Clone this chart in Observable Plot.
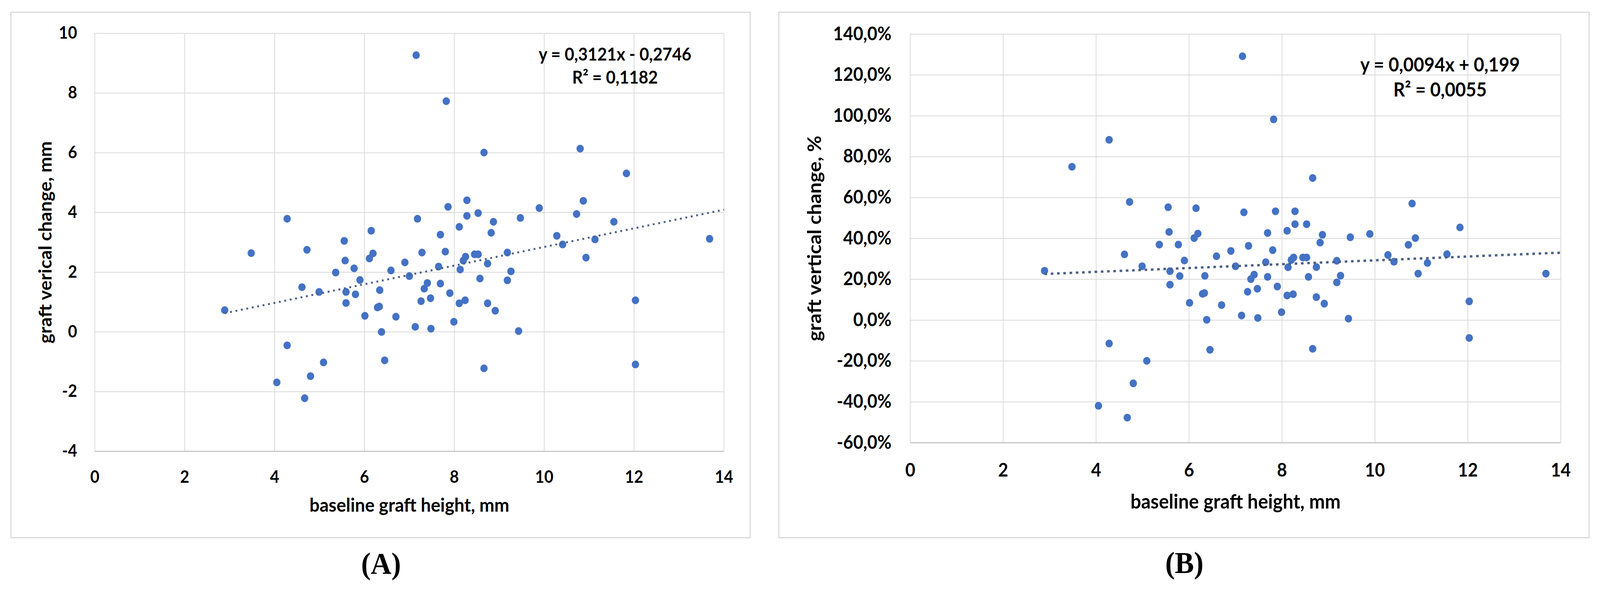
<!DOCTYPE html>
<html>
<head>
<meta charset="utf-8">
<script src="https://cdn.jsdelivr.net/npm/d3@7"></script>
<script src="https://cdn.jsdelivr.net/npm/@observablehq/plot@0.6"></script>
<style>
  html, body { margin: 0; padding: 0; background: #fff; overflow: hidden; }
  #wrap { position: relative; overflow: hidden; background: #fff; }
  #page { position: absolute; left: 0; top: 0; width: 4346px; height: 1513px; background: #fff; transform-origin: 0 0; }
  .box { position: absolute; border: 3px solid #d9d9d9; box-sizing: border-box; pointer-events: none; }
  .chart { position: absolute; }
  .cap { position: absolute; font-family: "Liberation Serif", "Times New Roman", serif; font-weight: bold;
         font-size: 78px; line-height: 78px; color: #000; transform: translateX(-50%); white-space: nowrap; }
</style>
</head>
<body>
<div id="wrap"><div id="page"></div></div>
<script>
// ---- data ----
const baselineHeight = [2.89,3.48,4.05,4.28,4.28,4.61,4.67,4.72,4.80,4.99,5.09,5.36,5.55,5.57,5.59,5.59,5.77,5.80,5.90,6.01,6.11,6.15,6.19,6.29,6.33,6.34,6.38,6.45,6.59,6.70,6.90,7.00,7.13,7.15,7.18,7.26,7.28,7.33,7.40,7.47,7.48,7.65,7.69,7.69,7.80,7.82,7.86,7.90,7.99,8.11,8.11,8.13,8.20,8.24,8.25,8.28,8.28,8.45,8.53,8.53,8.57,8.66,8.66,8.74,8.74,8.82,8.87,8.91,9.18,9.18,9.26,9.43,9.47,9.89,10.28,10.41,10.72,10.80,10.87,10.93,11.13,11.55,11.83,12.03,12.03,13.68];
const changeMm = [0.73,2.64,-1.69,3.79,-0.45,1.50,-2.22,2.75,-1.48,1.34,-1.02,1.99,3.05,2.39,1.34,0.97,2.13,1.26,1.74,0.54,2.46,3.39,2.63,0.82,0.85,1.40,0.00,-0.95,2.06,0.51,2.33,1.87,0.17,9.27,3.79,1.03,2.66,1.45,1.64,1.13,0.11,2.19,3.26,1.62,2.69,7.73,4.19,1.30,0.34,3.52,0.96,2.09,2.39,1.06,2.52,4.41,3.89,2.60,2.60,3.98,1.79,6.01,-1.22,2.29,0.96,3.32,3.69,0.71,2.66,1.73,2.03,0.03,3.82,4.15,3.22,2.93,3.95,6.14,4.39,2.49,3.10,3.69,5.31,1.06,-1.09,3.12];
const changePct = [24.2,75.1,-41.9,88.3,-11.4,32.2,-47.7,57.9,-30.9,26.4,-19.9,37.0,55.3,43.2,24.0,17.4,37.0,21.6,29.2,8.5,40.2,54.8,42.4,12.9,13.3,21.7,0.2,-14.5,31.3,7.4,33.9,26.4,2.3,129.2,52.8,13.9,36.4,20.1,22.3,15.4,1.1,28.4,42.7,21.2,34.3,98.3,53.3,16.5,3.9,43.8,12.1,25.9,29.5,12.7,30.7,53.3,47.0,30.7,30.7,47.0,21.2,69.6,-14.0,26.0,11.3,38.0,41.8,8.1,29.1,18.5,21.8,0.75,40.6,42.2,31.9,28.6,36.9,57.1,40.2,22.8,28.0,32.3,45.4,9.2,-8.7,22.8];

const xTicks = [0, 2, 4, 6, 8, 10, 12, 14];
const yTicksA = [-4, -2, 0, 2, 4, 6, 8, 10];
const yTicksB = [-60, -40, -20, 0, 20, 40, 60, 80, 100, 120, 140];

// trendline coefficients as printed on the chart (B is in fractions)
const trendA = { slope: 0.3121, intercept: -0.2746 };
const trendB = { slope: 0.0094, intercept: 0.199 };

const xTitle = "baseline graft height, mm";
const yTitleA = "graft verical change, mm";
const yTitleB = "graft vertical change, %";
const eqA = "y = 0,3121x - 0,2746\nR\u00B2 = 0,1182";
const eqB = "y = 0,0094x + 0,199\nR\u00B2 = 0,0055";
const captionA = "(A)";
const captionB = "(B)";

// ---- drawing ----
const FONT = "Lato, 'Open Sans', sans-serif";
const BLUE = "#4472C4";
const GRID = "#d9d9d9";
const PAGE_W = 4346, PAGE_H = 1513;

function panel(o) {
  const pts = baselineHeight.map((x, i) => ({ x, y: o.values[i] }));
  const x0 = d3.min(baselineHeight), x1 = xTicks[xTicks.length - 1];
  const trendPts = [x0, x1].map(x => ({ x, y: o.trendScale * (o.trend.slope * x + o.trend.intercept) }));
  return Plot.plot({
    width: o.width, height: o.height,
    marginLeft: o.ml, marginRight: o.mr, marginTop: o.mt, marginBottom: o.mb,
    x: { domain: [xTicks[0], x1] },
    y: { domain: [o.yTicks[0], o.yTicks[o.yTicks.length - 1]] },
    style: { fontFamily: FONT, color: "#000", background: "transparent", overflow: "visible" },
    marks: [
      Plot.gridX({ ticks: xTicks, stroke: GRID, strokeOpacity: 1, strokeWidth: 2 }),
      Plot.gridY({ ticks: o.yTicks, stroke: GRID, strokeOpacity: 1, strokeWidth: 2 }),
      Plot.ruleY([o.yTicks[0]], { stroke: "#bfbfbf", strokeWidth: 2.5 }),
      Plot.axisX({ ticks: xTicks, tickSize: 0, tickPadding: o.xPad, tickFormat: d => String(d), label: null,
                   fontSize: o.tickFs, fontWeight: "bold", fontFamily: FONT, fill: "#000" }),
      Plot.axisY({ ticks: o.yTicks, tickSize: 0, tickPadding: o.yPad, tickFormat: o.yFmt, label: null,
                   fontSize: o.tickFs, fontWeight: "bold", fontFamily: FONT, fill: "#000" }),
      Plot.dot(pts, { x: "x", y: "y", r: 10, fill: BLUE, stroke: "none" }),
      Plot.line(trendPts, { x: "x", y: "y", stroke: o.trendColor, strokeWidth: o.trendW,
                            strokeDasharray: o.trendDash, strokeLinecap: "butt" }),
      Plot.text([o.yTitle], { frameAnchor: "left", rotate: -90, dx: o.yTitleDx, textAnchor: "middle", lineAnchor: "middle",
                              fontSize: o.yTitleFs, fontWeight: "bold", fontFamily: FONT, fill: "#000" }),
      Plot.text([xTitle], { frameAnchor: "bottom", dy: o.xTitleDy, textAnchor: "middle", lineAnchor: "middle",
                            fontSize: o.xTitleFs, fontWeight: "bold", fontFamily: FONT, fill: "#000" }),
      Plot.text([o.eq], { frameAnchor: "top-right", dx: o.eqDx, dy: o.eqDy, textAnchor: "middle", lineAnchor: "top",
                          lineHeight: o.eqLh, fontSize: o.eqFs, fontWeight: "bold", fontFamily: FONT, fill: "#000" })
    ]
  });
}

const wrap = document.getElementById("wrap");
const page = document.getElementById("page");

// fit the 4346x1513 layout into whatever viewport the browser really gives
let vw = document.documentElement.clientWidth || window.innerWidth || PAGE_W;
let vh = document.documentElement.clientHeight || window.innerHeight || PAGE_H;
let sx = vw / PAGE_W, sy = vh / PAGE_H;
if (!isFinite(sx) || sx <= 0.3 || sx > 1) sx = 1;
if (!isFinite(sy) || sy <= 0.3 || sy > 1) sy = 1;
wrap.style.width = (PAGE_W * sx) + "px";
wrap.style.height = (PAGE_H * sy) + "px";
page.style.transform = `scale(${sx}, ${sy})`;

function place(el, left, top) {
  el.classList.add("chart");
  el.style.left = left + "px";
  el.style.top = top + "px";
  page.appendChild(el);
}

const chartA = panel({
  values: changeMm, yTicks: yTicksA, yFmt: d => String(d),
  trend: trendA, trendScale: 1, trendColor: "#4d5f88", trendW: 5, trendDash: "5,10",
  width: 2009, height: 1346, ml: 228, mr: 72, mt: 54, mb: 222,
  tickFs: 43, xTitleFs: 48.5, yTitleFs: 48, xPad: 50, yPad: 48,
  yTitle: yTitleA, yTitleDx: -133, xTitleDy: 139,
  eq: eqA, eqDx: -296, eqDy: 27, eqFs: 45, eqLh: 1.32
});
place(chartA, 29, 31);

const chartB = panel({
  values: changePct, yTicks: yTicksB, yFmt: d => d.toFixed(1).replace(".", ",") + "%",
  trend: trendB, trendScale: 100, trendColor: "#4d5f88", trendW: 6, trendDash: "7,10",
  width: 2201, height: 1346, ml: 356, mr: 78, mt: 56, mb: 244,
  tickFs: 47, xTitleFs: 51, yTitleFs: 51, xPad: 53, yPad: 51,
  yTitle: yTitleB, yTitleDx: -259, xTitleDy: 152,
  eq: eqB, eqDx: -328, eqDy: 50, eqFs: 49, eqLh: 1.31
});
place(chartB, 2116, 31);

function box(left, top, w, h) {
  const d = document.createElement("div");
  d.className = "box";
  Object.assign(d.style, { left: left + "px", top: top + "px", width: w + "px", height: h + "px" });
  page.appendChild(d);
}
box(28, 30, 2011, 1348);
box(2114, 30, 2204, 1348);

function caption(text, cx, top) {
  const d = document.createElement("div");
  d.className = "cap";
  d.textContent = text;
  d.style.left = cx + "px";
  d.style.top = top + "px";
  page.appendChild(d);
}
caption(captionA, 1035, 1404);
caption(captionB, 3217, 1402);
</script>
</body>
</html>
